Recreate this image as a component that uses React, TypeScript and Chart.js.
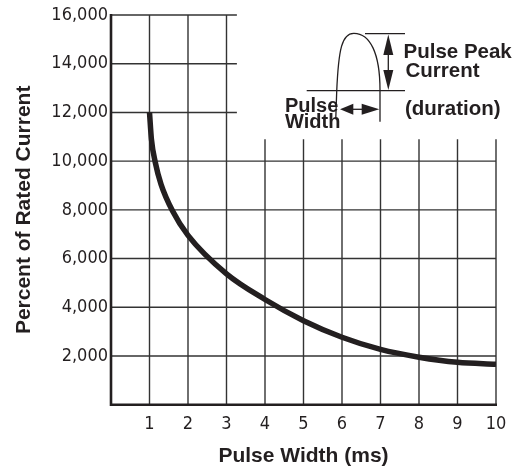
import React, { useEffect, useRef } from 'react';
import { Chart, registerables } from 'chart.js';

Chart.register(...registerables);

// ---- data ----
const pulseWidthMs = [1, 1.05, 1.15, 1.3, 1.6, 2, 3, 4, 5, 6, 7, 8, 9, 10];
const percentOfRated = [12000, 10900, 9950, 9050, 7950, 6950, 5370, 4320, 3450, 2770, 2270, 1950, 1740, 1660];
const xTickValues = [1, 2, 3, 4, 5, 6, 7, 8, 9, 10];
const yTickValues = [2000, 4000, 6000, 8000, 10000, 12000, 14000, 16000];
const xAxisTitle = 'Pulse Width (ms)';
const yAxisTitle = 'Percent of Rated Current';
const peakLabel = ['Pulse Peak', 'Current'];
const widthLabel = ['Pulse', 'Width'];
const durationLabel = '(duration)';

const INK = '#231f20';
const GRID = '#333333';
const NARROW = '"Liberation Sans Narrow", "Arial Narrow", "DejaVu Sans Condensed", sans-serif';
const BOLD = '"Liberation Sans", Arial, Helvetica, sans-serif';

const partialGrid = {
  id: 'partialGrid',
  beforeDatasetsDraw(chart: any) {
    const { ctx, chartArea, scales } = chart;
    const x = scales.x;
    const y = scales.y;
    ctx.save();
    ctx.strokeStyle = GRID;
    ctx.lineWidth = 1.4;
    const shortEnd = x.getPixelForValue(3.27);
    yTickValues.forEach((v) => {
      const py = y.getPixelForValue(v);
      ctx.beginPath();
      ctx.moveTo(chartArea.left, py);
      ctx.lineTo(v > 10000 ? shortEnd : chartArea.right, py);
      ctx.stroke();
    });
    const vTop = y.getPixelForValue(10900);
    xTickValues.forEach((v) => {
      const px = x.getPixelForValue(v);
      ctx.beginPath();
      ctx.moveTo(px, chartArea.bottom);
      ctx.lineTo(px, v <= 3 ? chartArea.top : vTop);
      ctx.stroke();
    });
    ctx.strokeStyle = INK;
    ctx.lineWidth = 2.6;
    ctx.beginPath();
    ctx.moveTo(chartArea.left, chartArea.top - 1);
    ctx.lineTo(chartArea.left, chartArea.bottom);
    ctx.lineTo(chartArea.right + 1, chartArea.bottom);
    ctx.stroke();
    ctx.restore();
  },
};

const pulseInset = {
  id: 'pulseInset',
  afterDatasetsDraw(chart: any) {
    const { ctx, scales } = chart;
    const ax = scales.x.getPixelForValue(6);
    const ay = scales.y.getPixelForValue(16000);
    const P = (dx: number, dy: number): [number, number] => [ax + dx, ay + dy];
    ctx.save();
    ctx.strokeStyle = INK;
    ctx.fillStyle = INK;
    ctx.lineWidth = 1.3;
    const seg = (a: [number, number], b: [number, number]) => {
      ctx.beginPath();
      ctx.moveTo(a[0], a[1]);
      ctx.lineTo(b[0], b[1]);
      ctx.stroke();
    };
    const tri = (a: [number, number], b: [number, number], c: [number, number]) => {
      ctx.beginPath();
      ctx.moveTo(a[0], a[1]);
      ctx.lineTo(b[0], b[1]);
      ctx.lineTo(c[0], c[1]);
      ctx.closePath();
      ctx.fill();
    };
    // baseline and peak level lines
    seg(P(-35.3, 75.7), P(63, 75.7));
    seg(P(23, 18.7), P(63, 18.7));
    // pulse shape
    ctx.beginPath();
    ctx.moveTo(...P(-6.2, 103));
    ctx.lineTo(...P(-5.3, 76.7));
    ctx.bezierCurveTo(...P(-3.5, 34), ...P(0, 18), ...P(12, 18.3));
    ctx.bezierCurveTo(...P(28, 18.5), ...P(38, 38), ...P(38, 75));
    ctx.lineTo(...P(38, 106.7));
    ctx.stroke();
    // vertical double arrow (peak current)
    seg(P(46.3, 30), P(46.3, 65));
    tri(P(46.3, 19.5), P(41.3, 40), P(51.3, 40));
    tri(P(46.3, 75), P(41.3, 55), P(51.3, 55));
    // horizontal double arrow (pulse width)
    seg(P(8, 94.3), P(24, 94.3));
    tri(P(-2, 94.3), P(11.3, 88.8), P(11.3, 99.8));
    tri(P(37.3, 94.3), P(19.7, 88.8), P(19.7, 99.8));
    // labels
    ctx.textBaseline = 'alphabetic';
    ctx.textAlign = 'left';
    ctx.font = `bold 20.5px ${BOLD}`;
    ctx.fillText(peakLabel[0], ...P(61.5, 43.3));
    ctx.fillText(peakLabel[1], ...P(63.5, 61.7));
    ctx.fillText(durationLabel, ...P(63, 100));
    ctx.font = `bold 20px ${BOLD}`;
    ctx.fillText(widthLabel[0], ...P(-57, 96.7));
    ctx.fillText(widthLabel[1], ...P(-57, 113.3));
    ctx.restore();
  },
};

export default function App() {
  const canvasRef = useRef<HTMLCanvasElement | null>(null);

  useEffect(() => {
    const canvas = canvasRef.current;
    if (!canvas) return;
    const chart = new Chart(canvas, {
      type: 'line',
      data: {
        datasets: [
          {
            label: 'Pulse current',
            data: pulseWidthMs.map((x, i) => ({ x, y: percentOfRated[i] })),
            borderColor: INK,
            borderWidth: 5.5,
            pointRadius: 0,
            fill: false,
            cubicInterpolationMode: 'monotone',
          },
        ],
      },
      options: {
        responsive: false,
        animation: false,
        devicePixelRatio: 1,
        layout: { padding: { top: 15, right: 30, left: 0, bottom: 0 } },
        plugins: { legend: { display: false }, tooltip: { enabled: false } },
        scales: {
          x: {
            type: 'linear',
            min: 0,
            max: 10,
            grid: { display: false, drawTicks: false },
            border: { display: false },
            afterBuildTicks: (scale: any) => {
              scale.ticks = xTickValues.map((value) => ({ value }));
            },
            afterFit: (scale: any) => {
              scale.height = 65.3;
              scale.paddingLeft = 0;
              scale.paddingRight = 0;
            },
            ticks: {
              padding: 9,
              color: INK,
              font: { family: NARROW, size: 18 },
              maxRotation: 0,
              autoSkip: false,
              callback: (v: any) => String(v),
            },
            title: {
              display: true,
              text: xAxisTitle,
              color: INK,
              font: { family: BOLD, size: 21, weight: 'bold' },
              padding: { top: 0, bottom: 1 },
            },
          },
          y: {
            type: 'linear',
            min: 0,
            max: 16000,
            grid: { display: false, drawTicks: false },
            border: { display: false },
            afterBuildTicks: (scale: any) => {
              scale.ticks = yTickValues.map((value) => ({ value }));
            },
            afterFit: (scale: any) => {
              scale.width = 111;
              scale.paddingTop = 0;
              scale.paddingBottom = 0;
            },
            ticks: {
              padding: 3,
              color: INK,
              font: { family: NARROW, size: 18 },
              autoSkip: false,
              callback: (v: any) => Number(v).toLocaleString('en-US'),
            },
            title: {
              display: true,
              text: yAxisTitle,
              color: INK,
              font: { family: BOLD, size: 21, weight: 'bold' },
              padding: { top: 12, bottom: 0 },
            },
          },
        },
      },
      plugins: [partialGrid, pulseInset],
    } as any);
    return () => chart.destroy();
  }, []);

  return (
    <div style={{ position: 'fixed', left: 0, top: 0, width: 526, height: 470, background: '#ffffff' }}>
      <canvas ref={canvasRef} width={526} height={470} style={{ display: 'block' }} />
    </div>
  );
}
